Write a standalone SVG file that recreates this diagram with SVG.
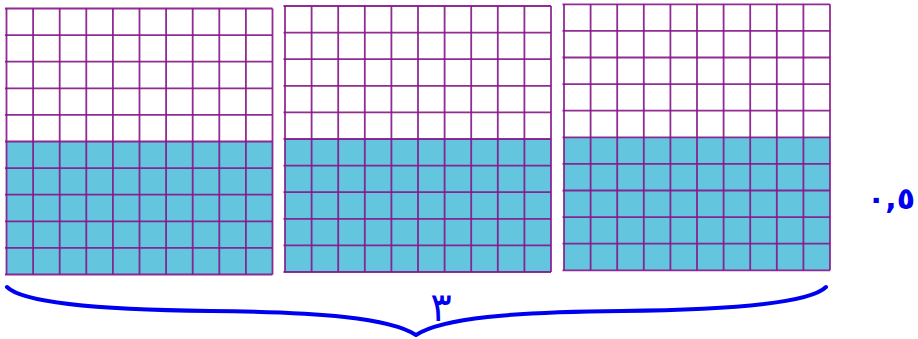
<svg xmlns="http://www.w3.org/2000/svg" xmlns:xlink="http://www.w3.org/1999/xlink" width="918" height="339" viewBox="0 0 918 339">
<style>
.fill{fill:#64c5df}
.blank{fill:#ffffff}
.ln{stroke:#86158a;stroke-width:1.8;stroke-opacity:0.9;fill:none}
.lbl{font-family:"DejaVu Sans",sans-serif;fill:#0000f0;direction:ltr}
.brace{fill:none;stroke:#0000f0;stroke-width:4;stroke-linecap:round;stroke-linejoin:round}
</style>
<defs>
<g id="grid">
<rect class="blank" x="0" y="0" width="266" height="133"/>
<rect class="fill" x="0" y="133" width="266" height="133"/>
<path class="ln" d="M-1.5,0H266M-1.5,26.6H266M-1.5,53.2H266M-1.5,79.8H266M-1.5,106.4H266M-1.5,133H266M-1.5,159.6H266M-1.5,186.2H266M-1.5,212.8H266M-1.5,239.4H266M-1.5,266H266"/>
<path class="ln" d="M0,0V266M26.6,0V266M53.2,0V266M79.8,0V266M106.4,0V266M133,0V266M159.6,0V266M186.2,0V266M212.8,0V266M239.4,0V266M266,0V266"/>
</g>
</defs>
<g id="grid1"><use xlink:href="#grid" href="#grid" transform="translate(6.5,8.5)"/></g>
<g id="grid2"><use xlink:href="#grid" href="#grid" transform="translate(285,6)"/></g>
<g id="grid3"><use xlink:href="#grid" href="#grid" transform="translate(564,4.3)"/></g>
<g id="connectors">
<path class="brace" d="M7,287 C25,305 120,310 210,311 C320,312 390,318 416,335 C442,318 512,312 622,311 C712,310 808,305 826,287"/>
</g>
<g id="label-half"><text class="lbl" x="891" y="209" font-size="30" font-weight="bold" text-anchor="middle">٠,٥</text></g>
<g id="label-three"><text class="lbl" x="441" y="321" font-size="40" text-anchor="middle">٣</text></g>
</svg>
